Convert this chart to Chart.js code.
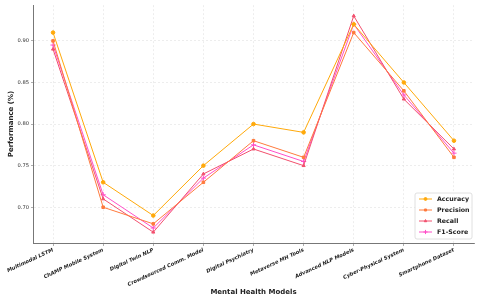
<!DOCTYPE html>
<html lang="en">
<head>
    <meta charset="UTF-8">
    <title>Mental Health Models Performance</title>
    <script src="https://cdn.jsdelivr.net/npm/chart.js"></script>
    <style>
        html, body { margin: 0; padding: 0; background: #fff; }
        #chart { width: 480px; height: 301px; display: block; }
    </style>
</head>
<body>
    <div id="chart"><canvas id="perfChart"></canvas></div>
    <script>
        const models = [
            'Multimodal LSTM',
            'ChAMP Mobile System',
            'Digital Twin NLP',
            'Crowdsourced Comm. Model',
            'Digital Psychiatry',
            'Metaverse MH Tools',
            'Advanced NLP Models',
            'Cyber-Physical System',
            'Smartphone Dataset'
        ];
        const accuracy  = [0.91, 0.73, 0.69, 0.75, 0.80, 0.79, 0.92, 0.85, 0.78];
        const precision = [0.90, 0.70, 0.68, 0.73, 0.78, 0.76, 0.91, 0.84, 0.76];
        const recall    = [0.89, 0.71, 0.67, 0.74, 0.77, 0.75, 0.93, 0.83, 0.77];
        const f1Score   = [0.895, 0.715, 0.675, 0.735, 0.775, 0.755, 0.92, 0.835, 0.765];
        const yTicks = [0.70, 0.75, 0.80, 0.85, 0.90];

        const font = 'DejaVu Sans';

        function series(label, values, color, style) {
            return {
                label: label,
                data: values.map((v, i) => ({ x: i, y: v })),
                borderColor: color,
                backgroundColor: color,
                borderWidth: 1,
                pointStyle: style,
                pointRadius: style === 'cross' ? 2.6 : 1.8,
                pointBorderWidth: 1,
                tension: 0
            };
        }

        // legend drawn inside the plot, bottom right like the original
        const boxLegend = {
            id: 'boxLegend',
            afterDraw(chart) {
                const ctx = chart.ctx, area = chart.chartArea;
                const sets = chart.data.datasets;
                const w = 57, h = 46, rowH = 11;
                const x0 = area.right - w - 2, y0 = area.bottom - h - 4;
                ctx.save();
                ctx.fillStyle = 'rgba(255,255,255,0.85)';
                ctx.strokeStyle = '#d8d8d8';
                ctx.lineWidth = 0.8;
                ctx.beginPath();
                ctx.roundRect(x0, y0, w, h, 2);
                ctx.fill();
                ctx.stroke();
                ctx.font = 'bold 6.3px "' + font + '"';
                ctx.textBaseline = 'middle';
                sets.forEach((ds, i) => {
                    const y = y0 + 6 + i * rowH;
                    ctx.strokeStyle = ds.borderColor;
                    ctx.fillStyle = ds.borderColor;
                    ctx.lineWidth = 1;
                    ctx.beginPath();
                    ctx.moveTo(x0 + 4, y);
                    ctx.lineTo(x0 + 17, y);
                    ctx.stroke();
                    Chart.helpers.drawPoint(ctx, {
                        pointStyle: ds.pointStyle,
                        radius: ds.pointRadius * 0.8,
                        borderWidth: 1
                    }, x0 + 10.5, y);
                    ctx.fillStyle = '#222';
                    ctx.fillText(ds.label, x0 + 22, y + 0.5);
                });
                ctx.restore();
            }
        };

        new Chart(document.getElementById('perfChart'), {
            type: 'line',
            data: {
                datasets: [
                    series('Accuracy', accuracy, '#FFA90A', 'circle'),
                    series('Precision', precision, '#FF7A3D', 'rect'),
                    series('Recall', recall, '#F2506E', 'triangle'),
                    series('F1-Score', f1Score, '#FF4FC8', 'cross')
                ]
            },
            options: {
                responsive: true,
                maintainAspectRatio: false,
                animation: false,
                layout: { padding: { top: 5, right: 6, left: 7, bottom: 0 } },
                plugins: {
                    legend: { display: false },
                    tooltip: { enabled: false }
                },
                scales: {
                    x: {
                        type: 'linear',
                        min: -0.4,
                        max: models.length - 1 + 0.4,
                        afterBuildTicks: s => { s.ticks = models.map((m, i) => ({ value: i })); },
                        afterFit: s => { s.height = 58; },
                        ticks: {
                            autoSkip: false,
                            minRotation: 25,
                            maxRotation: 25,
                            padding: 1,
                            color: '#222',
                            font: { family: font, size: 5.2, weight: 'bold', style: 'italic' },
                            callback: v => models[v]
                        },
                        grid: {
                            color: '#e2e2e2',
                            lineWidth: 0.6,
                            tickLength: 3,
                            tickColor: '#777'
                        },
                        border: { color: '#777', width: 1, dash: [2, 2] },
                        title: {
                            display: true,
                            text: 'Mental Health Models',
                            color: '#222',
                            font: { family: font, size: 7, weight: 'bold' },
                            padding: { top: 0, bottom: 5 }
                        }
                    },
                    y: {
                        min: 0.657,
                        max: 0.943,
                        afterBuildTicks: s => { s.ticks = yTicks.map(v => ({ value: v })); },
                        afterFit: s => { s.width = 26; },
                        ticks: {
                            color: '#333',
                            padding: 2,
                            font: { family: font, size: 5.2 },
                            callback: v => v.toFixed(2)
                        },
                        grid: {
                            color: '#e2e2e2',
                            lineWidth: 0.6,
                            tickLength: 2,
                            tickColor: '#777'
                        },
                        border: { color: '#777', width: 1, dash: [2, 2] },
                        title: {
                            display: true,
                            text: 'Performance (%)',
                            color: '#222',
                            font: { family: font, size: 7, weight: 'bold' },
                            padding: { top: 0, bottom: 2 }
                        }
                    }
                }
            },
            plugins: [boxLegend]
        });
    </script>
</body>
</html>
